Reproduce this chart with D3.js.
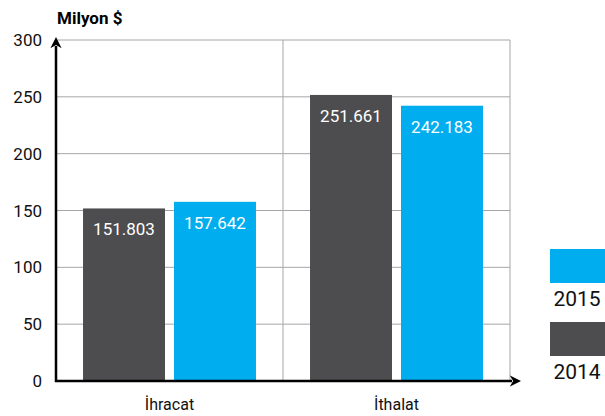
<!DOCTYPE html>
<html>
<head>
<meta charset="utf-8">
<script src="https://cdn.jsdelivr.net/npm/d3@7"></script>
<style>
  body { margin: 0; background: #fff; }
  text { font-family: Roboto, "Open Sans", sans-serif; }
</style>
</head>
<body>
<svg id="chart" width="605" height="416"></svg>
<script>
let categories = ["İhracat", "İthalat"]
let years = ["2014", "2015"]
let values2014 = [151.803, 251.661]
let values2015 = [157.642, 242.183]
let yTicks = [0, 50, 100, 150, 200, 250, 300]

let colors = { "2014": "#4d4d4f", "2015": "#00aeef" }

let svg = d3.select('#chart')

let x0 = 56, x1 = 510
let y0 = 381, y1 = 40

let x = d3.scaleBand().domain(categories).range([x0, x1])
let xInner = d3.scaleBand().domain(years).range([0, x.bandwidth()])
  .paddingInner(0.099).paddingOuter(0.297)
let y = d3.scaleLinear().domain([0, 300]).range([y0, y1])

// grid
svg.append('g').selectAll('line')
  .data(yTicks.slice(1))
  .join('line')
  .attr('x1', x0).attr('x2', x1)
  .attr('y1', d => y(d)).attr('y2', d => y(d))
  .attr('stroke', '#a6a6a6').attr('stroke-width', 1)

svg.append('g').selectAll('line')
  .data(categories)
  .join('line')
  .attr('x1', d => x(d) + x.bandwidth()).attr('x2', d => x(d) + x.bandwidth())
  .attr('y1', y(300)).attr('y2', y0)
  .attr('stroke', '#a6a6a6').attr('stroke-width', 1)

// bars
let rows = []
categories.forEach((c, i) => {
  rows.push({ cat: c, year: "2014", value: values2014[i] })
  rows.push({ cat: c, year: "2015", value: values2015[i] })
})

let bars = svg.append('g').selectAll('g')
  .data(rows)
  .join('g')
  .attr('transform', d => 'translate(' + (x(d.cat) + xInner(d.year)) + ',0)')

bars.append('rect')
  .attr('y', d => y(d.value))
  .attr('width', xInner.bandwidth())
  .attr('height', d => y0 - y(d.value))
  .attr('fill', d => colors[d.year])

bars.append('text')
  .text(d => d.value.toFixed(3))
  .attr('x', xInner.bandwidth() / 2)
  .attr('y', d => y(d.value) + 27)
  .attr('text-anchor', 'middle')
  .attr('fill', '#fff')
  .attr('font-size', 17)

// axes with arrows
svg.append('defs').append('marker')
  .attr('id', 'arrow')
  .attr('viewBox', '0 0 10 10')
  .attr('refX', 2).attr('refY', 5)
  .attr('markerWidth', 4.5).attr('markerHeight', 4.5)
  .attr('orient', 'auto')
  .append('path')
  .attr('d', 'M0,0 L10,5 L0,10 L3,5 Z')
  .attr('fill', '#000')

svg.append('line')
  .attr('x1', x0).attr('x2', x0)
  .attr('y1', y0 + 1).attr('y2', y1 + 6)
  .attr('stroke', '#000').attr('stroke-width', 2.5)
  .attr('marker-end', 'url(#arrow)')

svg.append('line')
  .attr('x1', x0 - 1).attr('x2', x1 + 2)
  .attr('y1', y0).attr('y2', y0)
  .attr('stroke', '#000').attr('stroke-width', 2.5)
  .attr('marker-end', 'url(#arrow)')

// tick labels
svg.append('g').selectAll('text')
  .data(yTicks)
  .join('text')
  .text(d => d)
  .attr('x', 42)
  .attr('y', d => y(d) + 6)
  .attr('text-anchor', 'end')
  .attr('font-size', 17)
  .attr('fill', '#111')

svg.append('g').selectAll('text')
  .data(categories)
  .join('text')
  .text(d => d)
  .attr('x', d => x(d) + x.bandwidth() / 2)
  .attr('y', 410)
  .attr('text-anchor', 'middle')
  .attr('font-size', 16)
  .attr('fill', '#111')

svg.append('text')
  .text('Milyon $')
  .attr('x', 57).attr('y', 24)
  .attr('font-size', 17)
  .attr('font-weight', 'bold')
  .attr('fill', '#000')

// legend
let legendYears = ["2015", "2014"]
let legend = svg.append('g').selectAll('g')
  .data(legendYears)
  .join('g')
  .attr('transform', (d, i) => 'translate(550,' + (249 + i * 73) + ')')

legend.append('rect')
  .attr('width', 55).attr('height', 34)
  .attr('fill', d => colors[d])

legend.append('text')
  .text(d => d)
  .attr('x', 27)
  .attr('y', 57)
  .attr('text-anchor', 'middle')
  .attr('font-size', 21)
  .attr('fill', '#111')
</script>
</body>
</html>
